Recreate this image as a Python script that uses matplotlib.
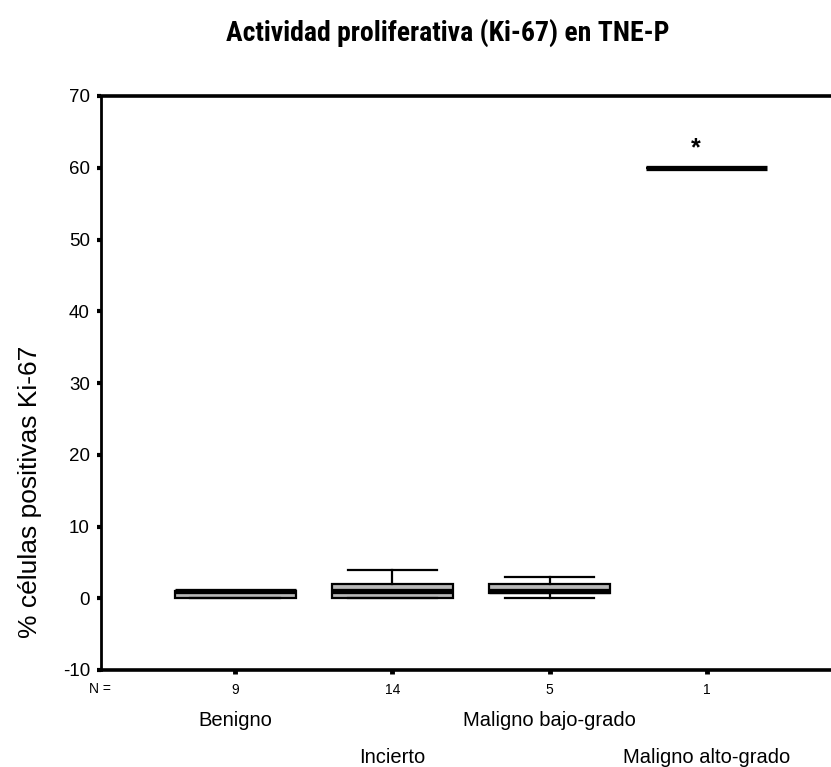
import matplotlib
matplotlib.use("Agg")
import matplotlib.pyplot as plt

# values
categories = ["Benigno", "Incierto", "Maligno bajo-grado", "Maligno alto-grado"]
n_counts = [9, 14, 5, 1]
q1 = [0, 0, 0.75, 60]
median = [1, 1, 1, 60]
q3 = [1, 2, 2, 60]
whisker_low = [0, 0, 0, 60]
whisker_high = [1, 4, 3, 60]
star_value = 62.7
y_ticks = [-10, 0, 10, 20, 30, 40, 50, 60, 70]

NARROW = ["Roboto Condensed", "Archivo Narrow", "DejaVu Sans"]
plt.rcParams["font.family"] = ["Liberation Sans", "DejaVu Sans"]

fig = plt.figure(figsize=(8.31, 7.67), dpi=100)
ax = fig.add_axes([101 / 831, 97 / 767, 1 - 101 / 831, 574 / 767])

pos = list(range(1, len(categories) + 1))
stats = []
for i in range(len(categories)):
    stats.append({"med": median[i], "q1": q1[i], "q3": q3[i],
                  "whislo": whisker_low[i], "whishi": whisker_high[i],
                  "fliers": []})

ax.bxp(stats, positions=pos, widths=0.77, patch_artist=True, showfliers=False,
       boxprops=dict(facecolor="#b8b8b8", edgecolor="black", linewidth=1.6),
       medianprops=dict(color="black", linewidth=3.8, solid_capstyle="butt"),
       whiskerprops=dict(color="black", linewidth=1.6),
       capprops=dict(color="black", linewidth=1.6),
       capwidths=0.57)

ax.text(pos[3] - 0.07, star_value, "*", ha="center", va="center",
        fontsize=18, fontweight="bold")

ax.set_xlim(0.147, 4.79)
ax.set_ylim(-10, 70)
ax.set_yticks(y_ticks)
ax.set_yticklabels([str(v) for v in y_ticks], fontsize=13.5)
ax.set_xticks(pos)
ax.set_xticklabels([str(n) for n in n_counts], fontsize=10)

ax.tick_params(axis="y", direction="out", length=3, width=3, pad=5)
ax.tick_params(axis="x", direction="out", length=3, width=3.5, pad=6)

ax.spines["right"].set_visible(False)
ax.spines["left"].set_linewidth(2)
ax.spines["top"].set_linewidth(2.6)
ax.spines["bottom"].set_linewidth(2.6)

# staggered category names under the N counts
for i, name in enumerate(categories):
    off = -36 if i % 2 == 0 else -63
    ax.annotate(name, xy=(pos[i], 0), xycoords=("data", "axes fraction"),
                xytext=(0, off), textcoords="offset points",
                ha="center", va="center", fontsize=14.5)

fig.text(100 / 831, 1 - 689 / 767, "N =", ha="center", va="center",
         fontsize=10)
fig.text(30 / 831, 1 - 492 / 767, "% células positivas Ki-67", rotation=90,
         ha="center", va="center", fontsize=19)
fig.text(448 / 831, 1 - 33 / 767, "Actividad proliferativa (Ki-67) en TNE-P",
         ha="center", va="center", fontsize=20, fontweight="semibold",
         family=NARROW)

fig.savefig("out.png", dpi=100)
